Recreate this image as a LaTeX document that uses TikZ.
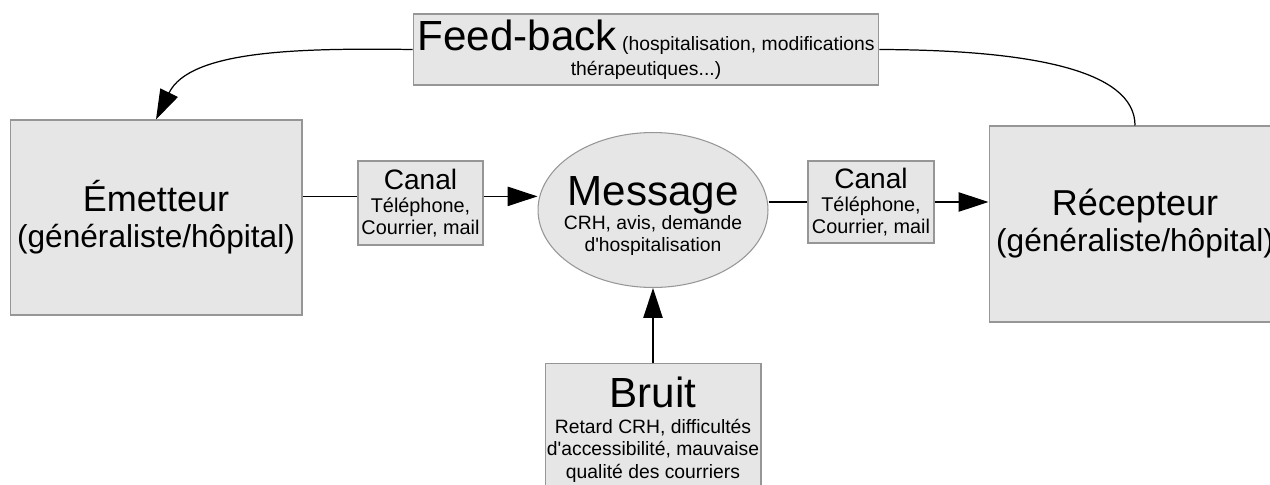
\documentclass[tikz,border=0pt]{standalone}
\usepackage{fontspec}
\setmainfont{Liberation Sans}
\usetikzlibrary{arrows.meta, shapes.geometric}

\definecolor{boxfill}{RGB}{230,230,230}
\definecolor{boxline}{RGB}{150,150,150}

\begin{document}
\begin{tikzpicture}[x = 0.02cm, y = -0.02cm, > = {Triangle[length = 17pt, width = 11pt]},
	box/.style = {draw = boxline, fill = boxfill, line width = 0.6pt, inner sep = 0pt, align = center},
	link/.style = {line width = 0.7pt}]

	% Frame
	
	\useasboundingbox (0, 0) rectangle (1270, 484);
	
	% Sender and receiver
	
	\node [box, minimum width = 5.84cm, minimum height = 3.9cm, font = \fontsize{18}{20.5}\selectfont] (emet) at (156, 217.5)
		{{\fontsize{20.5}{24}\selectfont Émetteur}\\(généraliste/hôpital)};
	\node [box, minimum width = 5.84cm, minimum height = 3.92cm, font = \fontsize{18}{20.5}\selectfont] (recep) at (1135, 224)
		{{\fontsize{20.5}{24}\selectfont Récepteur}\\(généraliste/hôpital)};
	
	% Channels
	
	\node [box, minimum width = 2.5cm, minimum height = 1.68cm, font = \fontsize{11.3}{12.3}\selectfont] (canal1) at (420.5, 203)
		{{\fontsize{16}{18}\selectfont Canal}\\[1pt]Téléphone,\\Courrier, mail};
	\node [box, minimum width = 2.52cm, minimum height = 1.64cm, font = \fontsize{11.3}{12.3}\selectfont] (canal2) at (871, 202)
		{{\fontsize{16}{18}\selectfont Canal}\\[1pt]Téléphone,\\Courrier, mail};
	
	% Message
	
	\node [ellipse, draw = boxline, fill = boxfill, line width = 0.6pt, inner sep = 0pt,
		minimum width = 4.6cm, minimum height = 3.1cm] (msg) at (653, 210) {};
	\node [align = center, font = \fontsize{11}{12.5}\selectfont] (msgtext) at (653, 216)
		{{\fontsize{24}{28}\selectfont Message}\\CRH, avis, demande\\d\textquotesingle hospitalisation};
	
	% Noise and feed-back
	
	\node [box, anchor = north, minimum width = 4.32cm, inner ysep = 7.4pt, font = \fontsize{11}{12.8}\selectfont] (bruit) at (653, 363)
		{{\fontsize{24}{28}\selectfont Bruit}\\[2pt]Retard CRH, difficultés\\d\textquotesingle accessibilité, mauvaise\\qualité des courriers};
	\node [box, minimum width = 9.32cm, minimum height = 1.42cm, font = \fontsize{11}{14.2}\selectfont] (fb) at (646, 49.5)
		{{\fontsize{24}{28}\selectfont Feed-back} (hospitalisation, modifications\\thérapeutiques...)};
	
	% Connectors
	
	\draw [link] (emet.east |- canal1.174) -- (canal1.174);
	\draw [link, ->] (canal1.6) -- (msg.west |- canal1.6);
	\draw [link] (msg.east |- canal2.west) -- (canal2.west);
	\draw [link, ->] (canal2.east) -- (recep.west |- canal2.east);
	\draw [link, ->] (bruit.north) -- (msg.south);
	
	\draw [link] (recep.north) .. controls (1135, 70) and (1030, 50) .. (fb.east);
	\draw [link, ->] (fb.west) .. controls (300, 48) and (190, 50) .. (emet.north);

\end{tikzpicture}
\end{document}
